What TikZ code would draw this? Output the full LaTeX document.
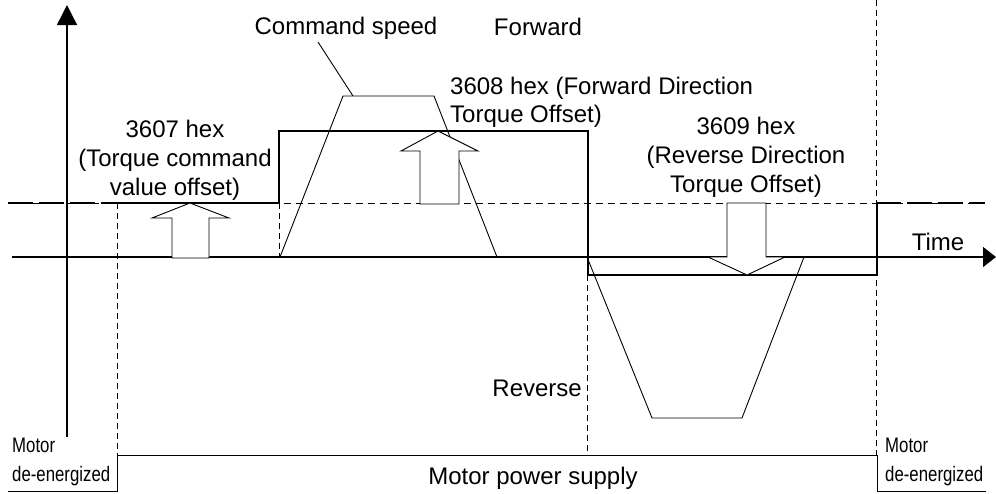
\documentclass[tikz,border=0pt]{standalone}
\usepackage{fontspec}
\setmainfont{Liberation Sans}
\newfontfamily\narrowfont[FakeStretch=0.8]{Liberation Sans}
\usetikzlibrary{arrows.meta}
\begin{document}
\begin{tikzpicture}[x=1pt,y=-1pt,
  lbl/.style={font=\fontsize{24}{29}\selectfont, inner sep=0pt, align=center},
  lbll/.style={font=\fontsize{24}{28}\selectfont, inner sep=0pt, align=left, anchor=west},
  small/.style={font=\narrowfont\fontsize{21}{29}\selectfont, inner sep=0pt, align=left, anchor=west},
  thinline/.style={line width=0.9pt},
  vdash/.style={line width=0.9pt, dash pattern=on 6pt off 4pt},
  hdash/.style={line width=0.9pt, dash pattern=on 7pt off 5pt},
  sig/.style={line width=2.6pt},
  sigdash/.style={line width=2.6pt, dash pattern=on 25pt off 6pt},
  axis/.style={line width=1.4pt},
  blockarrow/.style={line width=0.9pt, fill=white, line join=miter}]
\useasboundingbox (0,0) rectangle (996,493);

% named coordinates
\coordinate (yb) at (67,437);
\coordinate (yt) at (67,5);
\coordinate (tl) at (12,257);
\coordinate (tr) at (996,257);

% level dashed line
\draw[hdash] (8,203) -- (985,203);

% vertical dashed guides
\draw[vdash] (117,203) -- (117,455);
\draw[vdash] (279,203) -- (279,257);
\draw[vdash] (587,275) -- (587,455);
\draw[vdash] (876,0) -- (876,455);

% bottom power supply lines
\draw[thinline] (8,491) -- (117,491) -- (117,455) -- (877,455) -- (877,491) -- (986,491);

% axes
\draw[axis, -{Triangle[length=20pt,width=20pt]}] (yb) -- (yt);
\draw[axis, -{Triangle[length=13pt,width=20pt]}] (tl) -- (tr);

% command speed trapezoids
\draw[thinline, line join=miter] (280,257) -- (343,96) -- (434,96) -- (497,257);
\draw[thinline, line join=miter] (587,257) -- (652,418) -- (742,418) -- (804,257);
\draw[thinline] (318,42) -- (353,96);

% torque signal
\draw[sigdash] (8,203) -- (108,203);
\draw[sig, line join=miter] (106,203) -- (279,203) -- (279,131) -- (588,131) -- (588,275) -- (877,275) -- (877,203) -- (901,203);
\draw[sigdash] (907,203) -- (985,203);

% block arrows
\draw[blockarrow] (172,258) -- (172,218) -- (152,218) -- (190,203) -- (229,218) -- (209,218) -- (209,258) -- cycle;
\draw[blockarrow] (420,204) -- (420,151) -- (401,151) -- (438,131) -- (478,151) -- (459,151) -- (459,204) -- cycle;
\draw[blockarrow] (727,203) -- (766,203) -- (766,257) -- (785,257) -- (747,275) -- (708,257) -- (727,257) -- cycle;

% labels
\node[lbl] (cmd) at (346,28) {Command speed};
\node[lbl] (fwd) at (538,27) {Forward};
\node[lbll] (o3608) at (450,102) {3608 hex (Forward Direction\\Torque Offset)};
\node[lbl] (o3607) at (175,160) {3607 hex\\(Torque command\\value offset)};
\node[lbl] (o3609) at (746,157) {3609 hex\\(Reverse Direction\\Torque Offset)};
\node[lbl] (time) at (938,242) {Time};
\node[lbl, anchor=east] (rev) at (582,388) {Reverse};
\node[lbl] (mps) at (533,478) {Motor power supply};
\node[small] (mdl) at (12,462) {Motor\\de-energized};
\node[small] (mdr) at (885,462) {Motor\\de-energized};
\end{tikzpicture}
\end{document}
